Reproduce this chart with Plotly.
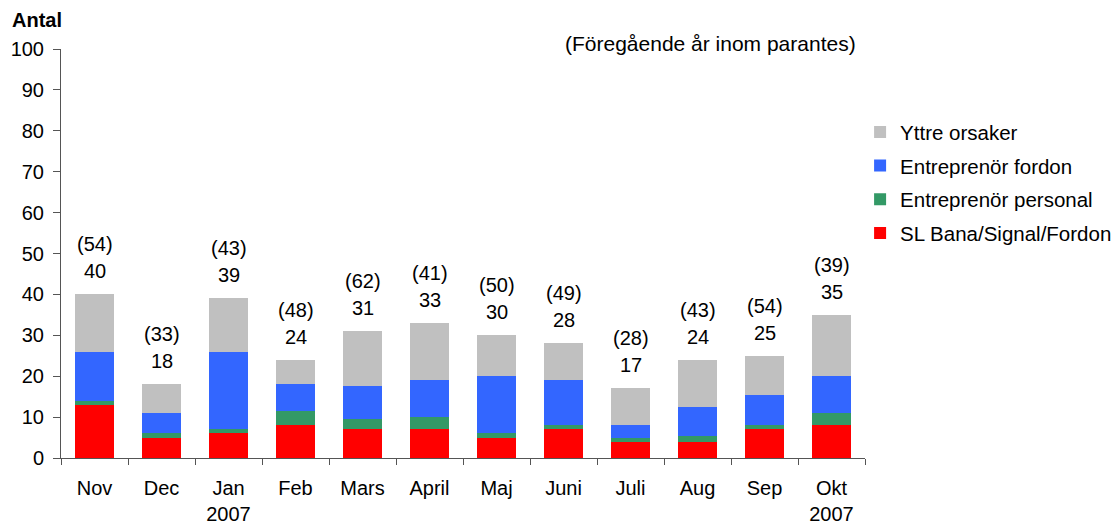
import plotly.graph_objects as go

months = ["Nov", "Dec", "Jan<br>2007", "Feb", "Mars", "April", "Maj", "Juni", "Juli", "Aug", "Sep", "Okt<br>2007"]
sl_bana = [13, 5, 6, 8, 7, 7, 5, 7, 4, 4, 7, 8]
entr_personal = [1, 1, 1, 3.5, 2.5, 3, 1, 1, 1, 1.5, 1, 3]
entr_fordon = [12, 5, 19, 6.5, 8, 9, 14, 11, 3, 7, 7.5, 9]
yttre = [14, 7, 13, 6, 13.5, 14, 10, 9, 9, 11.5, 9.5, 15]
totals = [40, 18, 39, 24, 31, 33, 30, 28, 17, 24, 25, 35]
prev_year = [54, 33, 43, 48, 62, 41, 50, 49, 28, 43, 54, 39]

FONT = "Liberation Sans, Arial, sans-serif"
FS = 20

series = [
    ("SL Bana/Signal/Fordon", sl_bana, "#FF0000", 4),
    ("Entreprenör personal", entr_personal, "#339966", 3),
    ("Entreprenör fordon", entr_fordon, "#3366FF", 2),
    ("Yttre orsaker", yttre, "#C0C0C0", 1),
]

fig = go.Figure()
for name, vals, col, rank in series:
    fig.add_trace(go.Bar(x=months, y=vals, name=name, marker=dict(color=col, line=dict(width=0)),
                         legendgroup=name, legendrank=rank))

for m, t, p in zip(months, totals, prev_year):
    fig.add_annotation(x=m, y=t, text=str(t), showarrow=False, yanchor="bottom", yshift=10,
                       font=dict(size=FS, color="black", family=FONT))
    fig.add_annotation(x=m, y=t, text=f"({p})", showarrow=False, yanchor="bottom", yshift=37,
                       font=dict(size=FS, color="black", family=FONT))

fig.add_annotation(x=-0.063, xref="paper", y=1.071, yref="paper", xanchor="left", yanchor="middle",
                   text="<b>Antal</b>", showarrow=False, font=dict(size=FS, color="black", family=FONT))
fig.add_annotation(x=0.991, xref="paper", y=1.0, yref="paper", xanchor="right", yanchor="middle",
                   yshift=6, text="(Föregående år inom parantes)", showarrow=False,
                   font=dict(size=21, color="black", family=FONT))

fig.update_layout(
    barmode="stack",
    bargap=0.43,
    width=1117, height=524,
    margin=dict(l=61, r=252, t=49, b=66, autoexpand=False),
    plot_bgcolor="white", paper_bgcolor="white",
    font=dict(family=FONT, size=FS, color="black"),
    showlegend=True,
    legend=dict(xref="container", yref="container", x=0.770, xanchor="left", y=0.786, yanchor="top",
                traceorder="grouped", tracegroupgap=4, font=dict(size=20.5, family=FONT), itemwidth=30),
    xaxis=dict(showline=True, linecolor="#555555", linewidth=1, ticks="outside", tickson="boundaries",
               ticklen=6, tickcolor="#555555", showgrid=False, tickfont=dict(size=FS), automargin=False,
               ticklabelstandoff=12),
    yaxis=dict(range=[0, 100], dtick=10, showline=True, linecolor="#555555", linewidth=1,
               ticks="outside", ticklen=7, tickcolor="#555555", showgrid=False, zeroline=False,
               tickfont=dict(size=FS), automargin=False, ticklabelstandoff=5),
)

fig.write_html("out.html", config={"displayModeBar": False},
               post_script="document.body.style.margin='0';document.body.style.overflow='hidden';")
